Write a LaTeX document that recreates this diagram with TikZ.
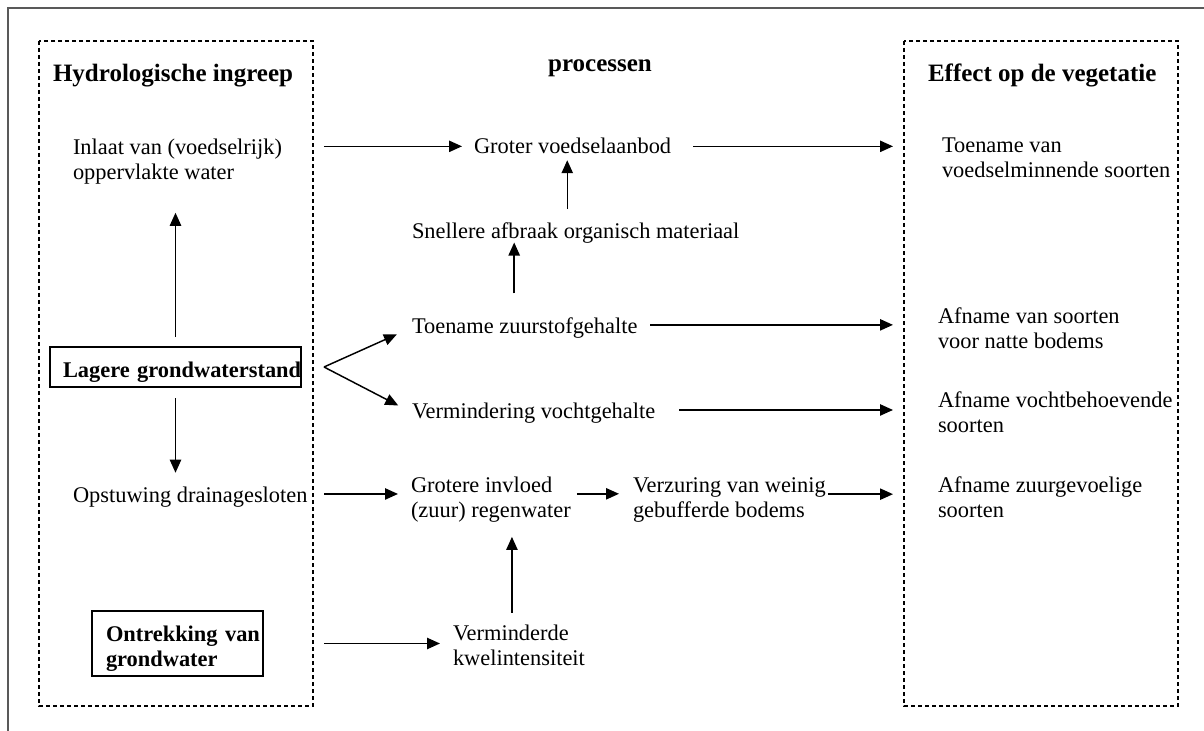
\documentclass[tikz,border=0pt]{standalone}
\usepackage{fontspec}
\setmainfont{Liberation Serif}
\usetikzlibrary{arrows.meta,calc}
\begin{document}
\begin{tikzpicture}[x=0.75pt,y=-0.75pt,
  txt/.style={inner sep=0pt, outer sep=0pt, anchor=base west, align=left, font=\fontsize{16.8pt}{18.75pt}\selectfont},
  hdr/.style={inner sep=0pt, outer sep=0pt, anchor=base west, font=\fontsize{18.75pt}{21pt}\selectfont\bfseries},
  arr/.style={line width=1.1pt, -{Triangle[length=9.75pt,width=8.5pt]}},
  grp/.style={draw, line width=1.1pt, dash pattern=on 3pt off 2.25pt},
  bx/.style={draw, line width=1.1pt, inner sep=0pt, outer sep=0pt, anchor=base west, align=left, text height=22.5pt, font=\fontsize{16.8pt}{18.75pt}\selectfont\bfseries}
]
\useasboundingbox (0,0) rectangle (1204,731);
% outer frame
\draw[line width=1.5pt, black!65] (1204,8) -- (8,8) -- (8,731);
% group boxes
\draw[grp] (39,41) rectangle (313,706);
\draw[grp] (904,41) rectangle (1178,706);
% headers
\node[hdr] (hyd) at (53,82) {Hydrologische ingreep};
\node[hdr, anchor=base] (proc) at (600,72) {processen};
\node[hdr] (eff) at (928,82) {Effect op de vegetatie};
% left column
\node[txt] (inlaat) at (73,180) {Inlaat van (voedselrijk)\\oppervlakte water};
\node[bx, text width=188.25pt, text depth=7.5pt] (lagere) at (50,377) {\hspace*{9.75pt}\mbox{Lagere grondwaterstand}};
\node[txt] (opst) at (73,502) {Opstuwing drainagesloten};
\node[bx, text width=128.25pt, text depth=26.25pt] (ontr) at (92,641) {\hspace*{10.5pt}Ontrekking van\\\hspace*{10.5pt}grondwater};
% middle column
\node[txt] (groter) at (474,154) {Groter voedselaanbod};
\node[txt] (snel) at (412,239) {Snellere afbraak organisch materiaal};
\node[txt] (tz) at (412,333) {Toename zuurstofgehalte};
\node[txt] (vd) at (412,418) {Vermindering vochtgehalte};
\node[txt] (gr) at (411,517) {Grotere invloed\\(zuur) regenwater};
\node[txt] (vz) at (633,517) {Verzuring van weinig\\gebufferde bodems};
\node[txt] (vmd) at (453,665) {Verminderde\\kwelintensiteit};
% right column
\node[txt] (tv) at (942,178) {Toename van\\voedselminnende soorten};
\node[txt] (afs) at (938,348) {Afname van soorten\\voor natte bodems};
\node[txt] (afv) at (938,432) {Afname vochtbehoevende\\soorten};
\node[txt] (afz) at (938,517) {Afname zuurgevoelige\\soorten};
% arrows
\draw[arr, shorten <=31.5pt, shorten >=9pt] (inlaat.east |- groter.west) -- (groter.west);
\draw[arr, shorten <=16.5pt, shorten >=36.75pt] (groter.east) -- (groter.east -| tv.west);
\draw[arr, shorten <=10.5pt, shorten >=4.5pt] ([xshift=-4pt]groter.south |- snel.north) -- ([xshift=-4pt]groter.south);
\draw[arr, shorten <=17.8pt, shorten >=-1pt] ([xshift=-7.9pt]tz.north) -- ([xshift=-7.9pt]tz.north |- snel.south);
\draw[arr, shorten <=7.5pt, shorten >=21pt] (lagere.north) -- (lagere.north |- inlaat.south);
\coordinate (fork) at ([xshift=17.25pt]lagere.east);
\draw[arr, shorten >=12.4pt] (fork) -- (tz.west);
\draw[arr, shorten >=11.6pt] (fork) -- (vd.west);
\draw[arr, shorten <=8.25pt, shorten >=10.3pt] (lagere.south) -- (lagere.south |- opst.north);
\draw[arr, shorten <=12.4pt, shorten >=9.75pt] ([yshift=2pt]opst.east) -- ([yshift=2pt]opst.east -| gr.west);
\draw[arr, shorten <=4.5pt, shorten >=10.5pt] ([yshift=4pt]gr.east) -- ([yshift=4pt]gr.east -| vz.west);
\draw[arr, shorten <=1.5pt, shorten >=33.75pt] ([yshift=4pt]vz.east) -- ([yshift=4pt]vz.east -| afz.west);
\draw[arr, shorten <=9.75pt, shorten >=33.75pt] ([yshift=2pt]tz.east) -- ([yshift=2pt]tz.east -| afs.west);
\draw[arr, shorten <=18pt, shorten >=33.75pt] ([yshift=2pt]vd.east) -- ([yshift=2pt]vd.east -| afv.west);
\draw[arr, shorten <=45.75pt, shorten >=9.75pt] (ontr.east) -- (ontr.east -| vmd.west);
\draw[arr, shorten <=8.8pt, shorten >=11.3pt] ([xshift=-5.25pt]vmd.north) -- ([xshift=-5.25pt]vmd.north |- gr.south);
\end{tikzpicture}
\end{document}
